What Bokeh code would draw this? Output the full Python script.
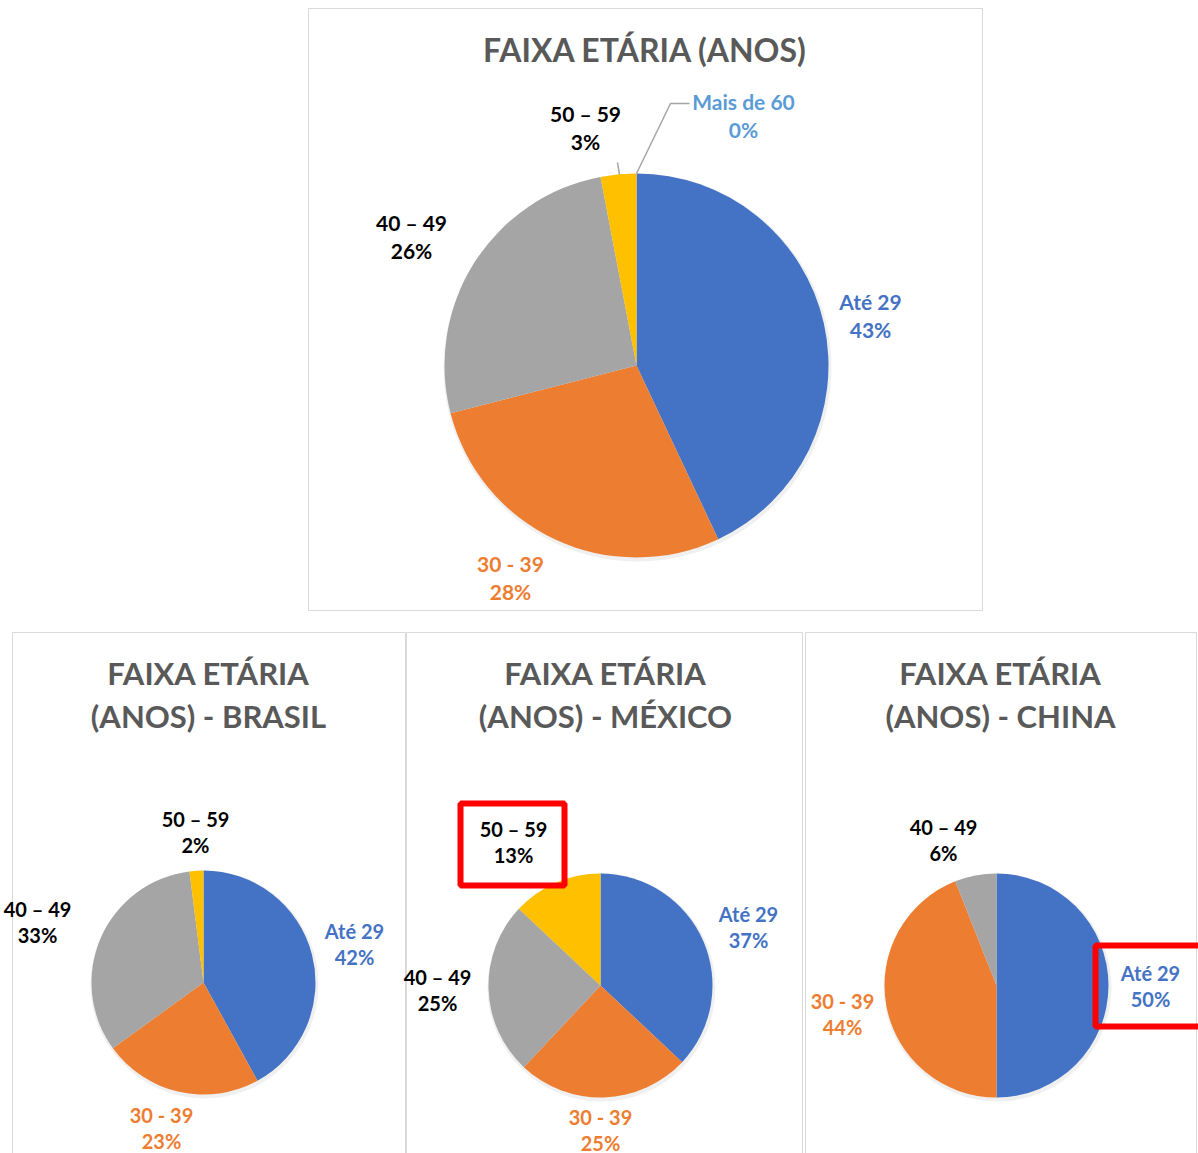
import math
from bokeh.plotting import figure
from bokeh.models import Range1d
from bokeh.embed import file_html
from bokeh.resources import INLINE
from bokeh.core.properties import value

W, H = 1198, 1153

# ---------------- data ----------------
categories = ["Até 29", "30 - 39", "40 – 49", "50 – 59", "Mais de 60"]
geral = [43, 28, 26, 3, 0]
brasil = [42, 23, 33, 2]
mexico = [37, 25, 25, 13]
china = [50, 44, 6]
chart_titles = [
    ["FAIXA ETÁRIA (ANOS)"],
    ["FAIXA ETÁRIA", "(ANOS) - BRASIL"],
    ["FAIXA ETÁRIA", "(ANOS) - MÉXICO"],
    ["FAIXA ETÁRIA", "(ANOS) - CHINA"],
]

# ---------------- styles ----------------
slice_colors = ["#4472C4", "#ED7D31", "#A5A5A5", "#FFC000", "#5B9BD5"]
label_colors = ["#4472C4", "#ED7D31", "#000000", "#000000", "#5B9BD5"]
FONT = "Lato"

# layout (pixel positions, y measured from top)
layouts = [
    dict(values=geral, cx=636, cy=365, r=192, title_x=645, title_y=[49], tsize="32px",
         lsize="21px", gap=28,
         labels=[(870, 301), (510, 563), (411, 222), (585, 113), (743, 101)]),
    dict(values=brasil, cx=203, cy=982, r=112, title_x=208, title_y=[672, 715], tsize="31px",
         lsize="20px", gap=26,
         labels=[(354, 930), (161, 1114), (37, 908), (195, 818)]),
    dict(values=mexico, cx=600, cy=985, r=112, title_x=605, title_y=[672, 715], tsize="31px",
         lsize="20px", gap=26,
         labels=[(748, 913), (600, 1116), (437, 976), (513, 828)]),
    dict(values=china, cx=996, cy=985, r=112, title_x=1000, title_y=[672, 715], tsize="31px",
         lsize="20px", gap=26,
         labels=[(1150, 972), (842, 1000), (943, 826)]),
]


def Y(y):
    return H - y


p = figure(width=W, height=H, x_range=Range1d(0, W), y_range=Range1d(0, H),
           output_backend="svg", toolbar_location=None, min_border=0,
           x_axis_location=None, y_axis_location=None)
p.grid.visible = False
p.outline_line_color = None
p.background_fill_color = "white"
p.border_fill_color = "white"

# panel borders
p.quad(left=[308], right=[982], top=[Y(8)], bottom=[Y(610)],
       fill_color="white", line_color="#d9d9d9", line_width=1)
for l, r in [(12, 405), (406, 802), (805, 1196)]:
    p.quad(left=[l], right=[r], top=[Y(632)], bottom=[Y(1160)],
           fill_color="white", line_color="#d9d9d9", line_width=1)

for k, lay in enumerate(layouts):
    vals = lay["values"]
    total = float(sum(vals))
    cum = 0.0
    starts, ends, cols = [], [], []
    for i, v in enumerate(vals):
        c0 = cum / total
        cum += v
        c1 = cum / total
        if v <= 0:
            continue
        a0 = math.pi / 2 - 2 * math.pi * c0
        a1 = math.pi / 2 - 2 * math.pi * c1
        starts.append(a1)
        ends.append(a0)
        cols.append(slice_colors[i])
    n = len(starts)
    # soft shadow
    p.circle(x=[lay["cx"] + 1], y=[Y(lay["cy"] + 2)], radius=lay["r"] + 2,
             radius_units="screen", fill_color="#000000", fill_alpha=0.06, line_color=None)
    p.wedge(x=[lay["cx"]] * n, y=[Y(lay["cy"])] * n, radius=lay["r"],
            radius_units="screen", start_angle=starts, end_angle=ends, fill_color=cols,
            line_color=None)

    # titles
    for t, ty in zip(chart_titles[k], lay["title_y"]):
        p.text(x=[lay["title_x"]], y=[Y(ty)], text=[t], text_align="center",
               text_baseline="middle", text_font=value(FONT), text_font_style="bold",
               text_font_size=lay["tsize"], text_color="#595959")

    # labels
    for i, (lx, ly) in enumerate(lay["labels"]):
        p.text(x=[lx], y=[Y(ly)], text=[categories[i]], text_align="center",
               text_baseline="middle", text_font=value(FONT), text_font_style="bold",
               text_font_size=lay["lsize"], text_color=label_colors[i])
        p.text(x=[lx], y=[Y(ly + lay["gap"])], text=[f"{vals[i]}%"], text_align="center",
               text_baseline="middle", text_font=value(FONT), text_font_style="bold",
               text_font_size=lay["lsize"], text_color=label_colors[i])

# leader lines (top chart)
p.line(x=[636, 670, 689], y=[Y(173), Y(103), Y(103)], line_color="#A5A5A5", line_width=1.5)
p.line(x=[617, 619], y=[Y(162), Y(174)], line_color="#A5A5A5", line_width=1.5)

# red highlight boxes
p.quad(left=[460], right=[564], top=[Y(803)], bottom=[Y(885)], fill_alpha=0,
       line_color="#FF0000", line_width=6)
p.quad(left=[1095], right=[1205], top=[Y(945)], bottom=[Y(1026)], fill_alpha=0,
       line_color="#FF0000", line_width=6)

open("out.html", "w").write(file_html(p, INLINE))
